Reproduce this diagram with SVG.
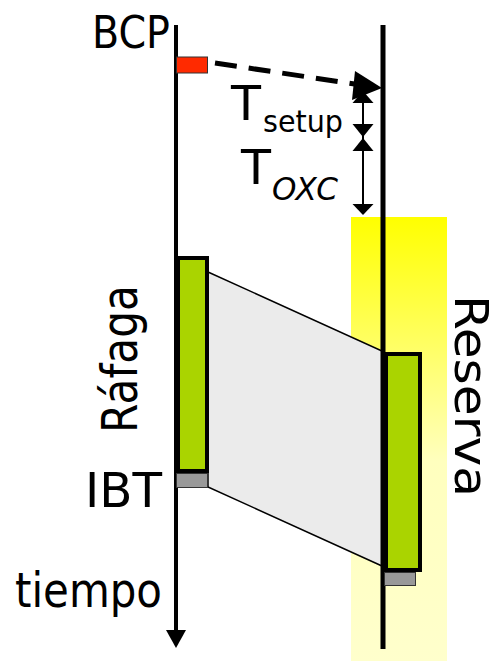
<svg xmlns="http://www.w3.org/2000/svg" width="499" height="661" viewBox="0 0 499 661">
<defs>
<linearGradient id="yel" x1="0" y1="0" x2="0" y2="1">
<stop offset="0" stop-color="#ffff00"/>
<stop offset="0.55" stop-color="#ffffbe"/>
<stop offset="1" stop-color="#ffffcc"/>
</linearGradient>
<style>
.t{font-family:"DejaVu Sans","Liberation Sans",sans-serif;fill:#000}
.ln{stroke:#000;fill:none}
.burst{fill:#aad400;stroke:#000;stroke-width:4}
.ibt{fill:#999;stroke:#333;stroke-width:1}
.ah{fill:#000}
</style>
</defs>
<rect id="reserva-zone" x="351" y="217" width="96" height="444" fill="url(#yel)"/>
<g id="connectors">
<polygon points="208,272 382,351 382,566 208,487" fill="#ebebeb" stroke="#000" stroke-width="1.5"/>
<line class="ln" x1="176" y1="25" x2="176" y2="632" stroke-width="4"/>
<polygon class="ah" points="166,630 186,630 176,648"/>
<line class="ln" x1="383" y1="25" x2="383" y2="649" stroke-width="5"/>
<line class="ln" x1="215" y1="63" x2="358" y2="84.5" stroke-width="5" stroke-dasharray="22,12"/>
<polygon class="ah" points="382,88 355,71 352,100"/>
<line class="ln" x1="363" y1="100" x2="363" y2="207" stroke-width="2"/>
<polygon class="ah" points="363,91 352.5,103 373.5,103"/>
<polygon class="ah" points="363,137 352.5,124 373.5,124"/>
<polygon class="ah" points="363,138 352.5,151 373.5,151"/>
<polygon class="ah" points="363,215 352.5,204 373.5,204"/>
</g>
<g id="bcp">
<rect x="176.5" y="57" width="31" height="16" fill="#ff2a00" stroke="#333" stroke-width="1"/>
<text class="t" x="92" y="48" font-size="45" textLength="78" lengthAdjust="spacingAndGlyphs">BCP</text>
</g>
<g id="rafaga">
<rect class="burst" x="178" y="258" width="29" height="213"/>
<rect class="ibt" x="176.5" y="473.5" width="31" height="14"/>
<text class="t" transform="translate(137,433) rotate(-90)" font-size="49" textLength="148" lengthAdjust="spacingAndGlyphs">Ráfaga</text>
<text class="t" x="85" y="507" font-size="48" textLength="77" lengthAdjust="spacingAndGlyphs">IBT</text>
</g>
<g id="reserva">
<rect class="burst" x="386" y="354" width="34" height="216"/>
<rect class="ibt" x="384.5" y="572.5" width="31" height="13"/>
<text class="t" transform="translate(455,295) rotate(90)" font-size="46" textLength="202" lengthAdjust="spacingAndGlyphs">Reserva</text>
</g>
<g id="tsetup">
<text class="t" x="231" y="120" font-size="48" textLength="30" lengthAdjust="spacingAndGlyphs">T</text>
<text class="t" x="263" y="132" font-size="30" textLength="80" lengthAdjust="spacingAndGlyphs">setup</text>
</g>
<g id="toxc">
<text class="t" x="241" y="184" font-size="48" textLength="30" lengthAdjust="spacingAndGlyphs">T</text>
<text class="t" x="272" y="200" font-size="32" font-style="italic" textLength="66" lengthAdjust="spacingAndGlyphs">OXC</text>
</g>
<g id="tiempo">
<text class="t" x="15" y="607" font-size="48" textLength="147" lengthAdjust="spacingAndGlyphs">tiempo</text>
</g>
</svg>
